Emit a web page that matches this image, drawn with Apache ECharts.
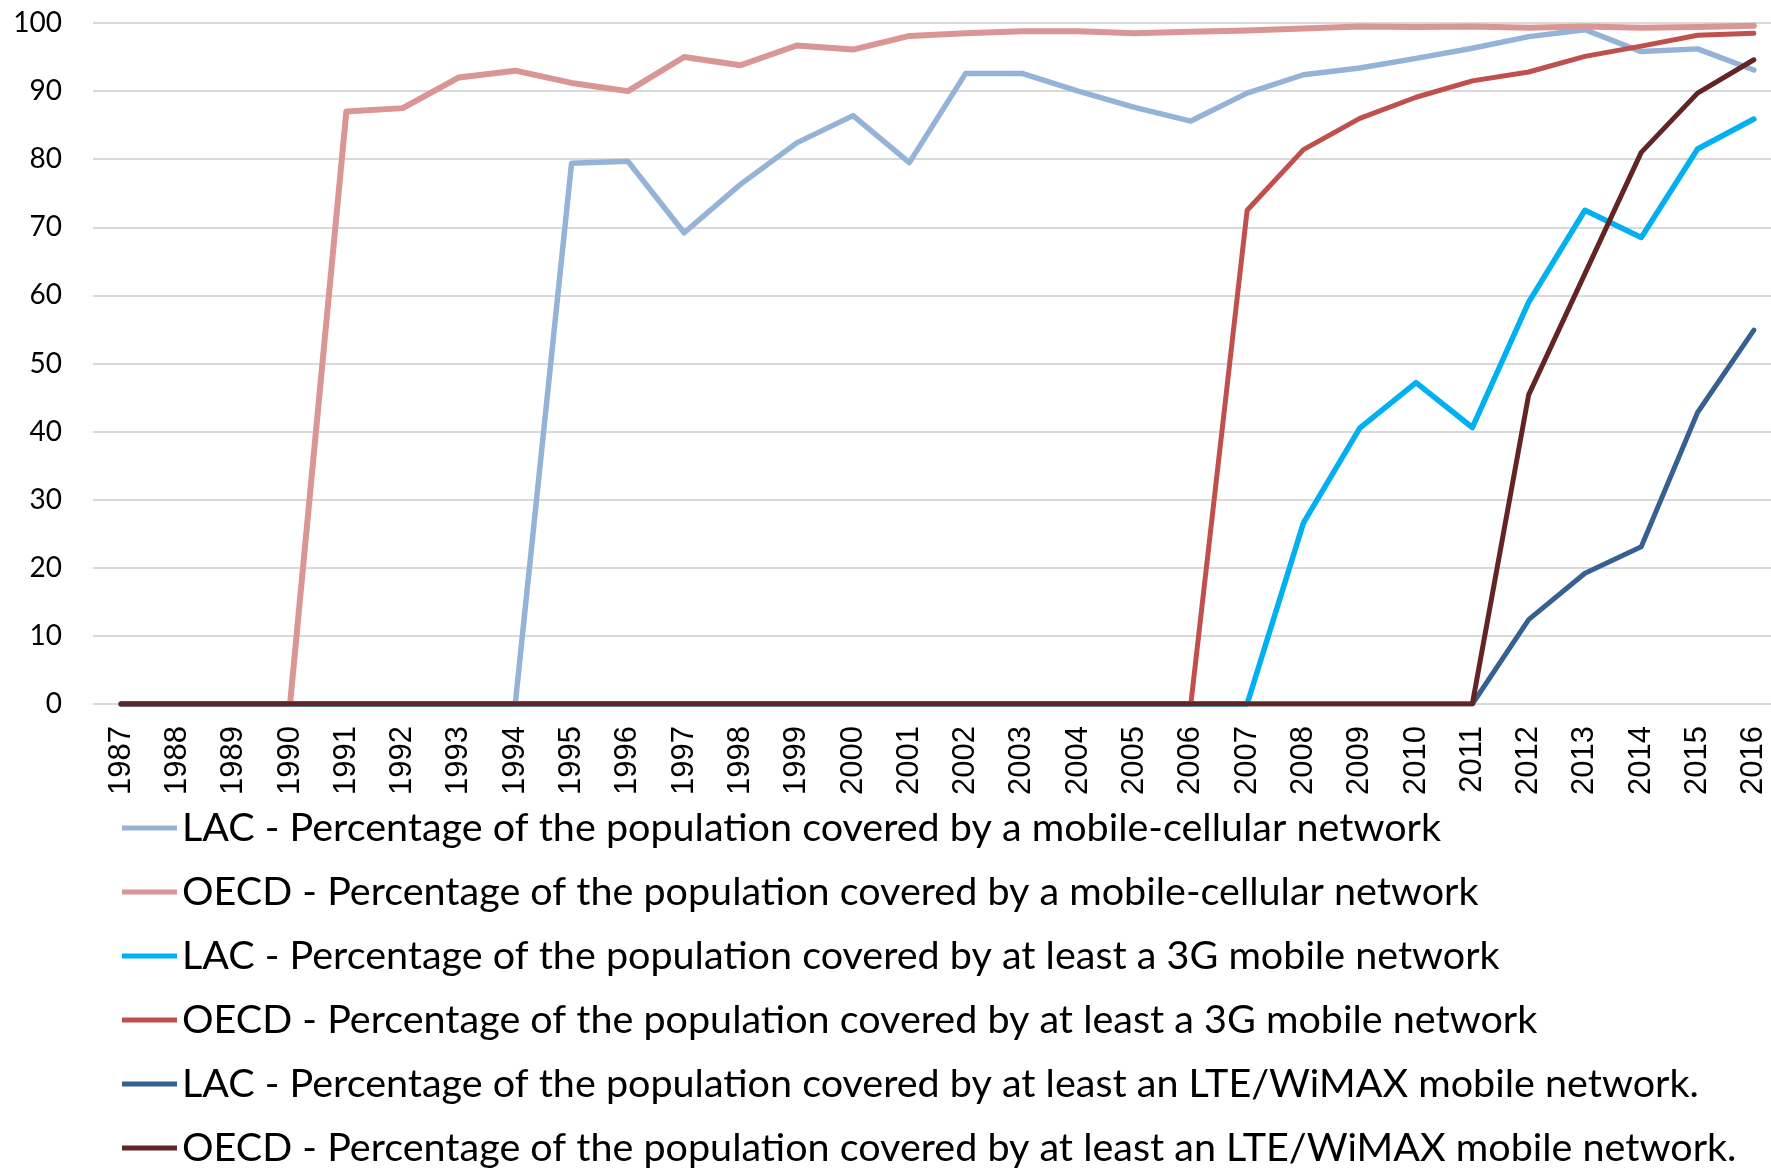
<!DOCTYPE html>
<html>
<head>
<meta charset="utf-8">
<script src="https://cdn.jsdelivr.net/npm/echarts@6/dist/echarts.min.js"></script>
<style>html,body{margin:0;padding:0;background:#fff;overflow:hidden;width:1771px;height:1169px;}#chart{width:1782px;height:1169px;}</style>
</head>
<body>
<div id="chart"></div>
<script>
const years = ['1987','1988','1989','1990','1991','1992','1993','1994','1995','1996','1997','1998','1999','2000','2001','2002','2003','2004','2005','2006','2007','2008','2009','2010','2011','2012','2013','2014','2015','2016'];
const yTicks = [0,10,20,30,40,50,60,70,80,90,100];
const seriesNames = [
  'LAC - Percentage of the population covered by a mobile-cellular network',
  'OECD - Percentage of the population covered by a mobile-cellular network',
  'LAC - Percentage of the population covered by at least a 3G mobile network',
  'OECD - Percentage of the population covered by at least a 3G mobile network',
  'LAC - Percentage of the population covered by at least an LTE/WiMAX mobile network.',
  'OECD - Percentage of the population covered by at least an LTE/WiMAX mobile network.'
];
const lacMobile  = [0,0,0,0,0,0,0,0,79.4,79.7,69.2,76.3,82.4,86.4,79.5,92.6,92.6,90.0,87.6,85.6,89.7,92.4,93.4,94.8,96.3,98.0,99.0,95.8,96.2,93.1];
const oecdMobile = [0,0,0,0,87.0,87.5,92.0,93.0,91.2,90.0,95.0,93.8,96.7,96.1,98.1,98.5,98.8,98.8,98.5,98.7,98.9,99.2,99.5,99.4,99.5,99.3,99.5,99.3,99.4,99.6];
const lac3G      = [0,0,0,0,0,0,0,0,0,0,0,0,0,0,0,0,0,0,0,0,0,26.6,40.5,47.2,40.6,59.0,72.5,68.5,81.5,85.9];
const oecd3G     = [0,0,0,0,0,0,0,0,0,0,0,0,0,0,0,0,0,0,0,0,72.5,81.4,86.0,89.1,91.5,92.8,95.1,96.6,98.2,98.5];
const lacLTE     = [0,0,0,0,0,0,0,0,0,0,0,0,0,0,0,0,0,0,0,0,0,0,0,0,0,12.4,19.2,23.1,42.8,54.9];
const oecdLTE    = [0,0,0,0,0,0,0,0,0,0,0,0,0,0,0,0,0,0,0,0,0,0,0,0,0,45.4,63.2,81.0,89.7,94.6];

const dataSets = [lacMobile, oecdMobile, lac3G, oecd3G, lacLTE, oecdLTE];
const colors = ['#95B3D7','#D99694','#00B0F0','#C0504D','#376092','#632523'];
const widths = [5.5,6,5.5,5,5,5];

const chart = echarts.init(document.getElementById('chart'), null, {renderer:'canvas'});
chart.setOption({
  animation:false,
  backgroundColor:'#ffffff',
  grid:{left:93, right:0, top:23, height:681, containLabel:false},
  xAxis:{
    type:'category', data:years, boundaryGap:true,
    axisLine:{show:false}, axisTick:{show:false},
    axisLabel:{rotate:90, interval:0, margin:22, fontFamily:'Liberation Sans', fontSize:31, color:'#000'}
  },
  yAxis:{
    type:'value', min:yTicks[0], max:yTicks[yTicks.length-1], interval:10,
    axisLine:{show:false}, axisTick:{show:false},
    splitLine:{lineStyle:{color:'#D9D9D9', width:2}},
    axisLabel:{margin:31, fontFamily:'Lato', fontSize:28, color:'#000'}
  },
  legend:{
    orient:'vertical', left:122, top:808, padding:0, itemGap:24,
    itemWidth:55, itemHeight:5, icon:'rect',
    textStyle:{fontFamily:'Lato', fontSize:39.5, color:'#000', lineHeight:40},
    data:seriesNames
  },
  series: dataSets.map((d,i)=>({
    name:seriesNames[i], type:'line', data:d, showSymbol:false, symbol:'none',
    color:colors[i],
    lineStyle:{color:colors[i], width:widths[i], cap:'round', join:'round'},
    z:2+i
  }))
});
</script>
</body>
</html>
